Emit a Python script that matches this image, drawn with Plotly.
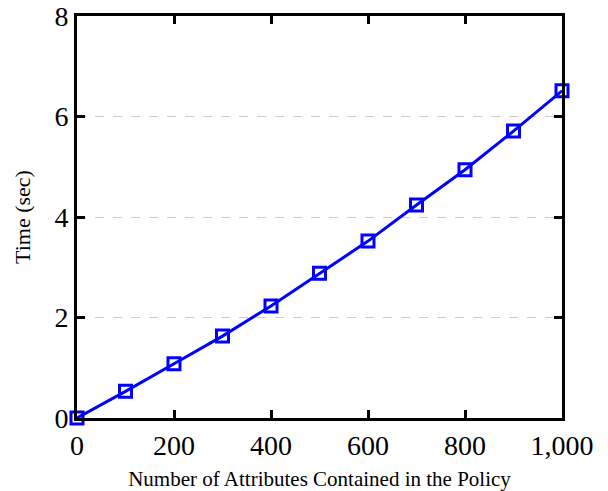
import plotly.graph_objects as go

attrs = [0, 100, 200, 300, 400, 500, 600, 700, 800, 900, 1000]
times = [0.0, 0.53, 1.08, 1.63, 2.23, 2.88, 3.52, 4.24, 4.94, 5.71, 6.51]
x_ticks = [0, 200, 400, 600, 800, 1000]
x_tick_labels = ["0", "200", "400", "600", "800", "1,000"]
y_ticks = [0, 2, 4, 6, 8]

fig = go.Figure()
fig.add_trace(go.Scatter(
    x=attrs, y=times, mode="lines+markers",
    line=dict(color="#0000ff", width=3),
    marker=dict(symbol="square-open", size=12, color="#0000ff", line=dict(width=3, color="#0000ff")),
    cliponaxis=False, showlegend=False,
))

font = "Liberation Serif"
fig.update_layout(
    width=608, height=491,
    margin=dict(l=77, r=46, t=16, b=73),
    paper_bgcolor="white", plot_bgcolor="white",
    font=dict(family=font, color="black"),
    xaxis=dict(
        range=[0, 1000], tickvals=x_ticks, ticktext=x_tick_labels,
        ticks="inside", ticklen=8, tickwidth=2.5, tickcolor="black",
        showline=True, linewidth=3, linecolor="black", mirror="ticks",
        showgrid=False, zeroline=False, automargin=False,
        tickfont=dict(size=28, family=font, color="black"),
        title=dict(text="Number of Attributes Contained in the Policy", font=dict(size=21, family=font, color="black"), standoff=12),
    ),
    yaxis=dict(
        range=[0, 8], tickvals=y_ticks,
        ticks="inside", ticklen=8, tickwidth=2.5, tickcolor="black",
        showline=True, linewidth=3, linecolor="black", mirror="ticks",
        showgrid=True, gridcolor="#cccccc", griddash="dash", gridwidth=1,
        zeroline=False, automargin=False,
        tickfont=dict(size=28, family=font, color="black"),
        title=dict(text="Time (sec)", font=dict(size=22, family=font, color="black"), standoff=18),
    ),
)
fig.write_html("out.html")
